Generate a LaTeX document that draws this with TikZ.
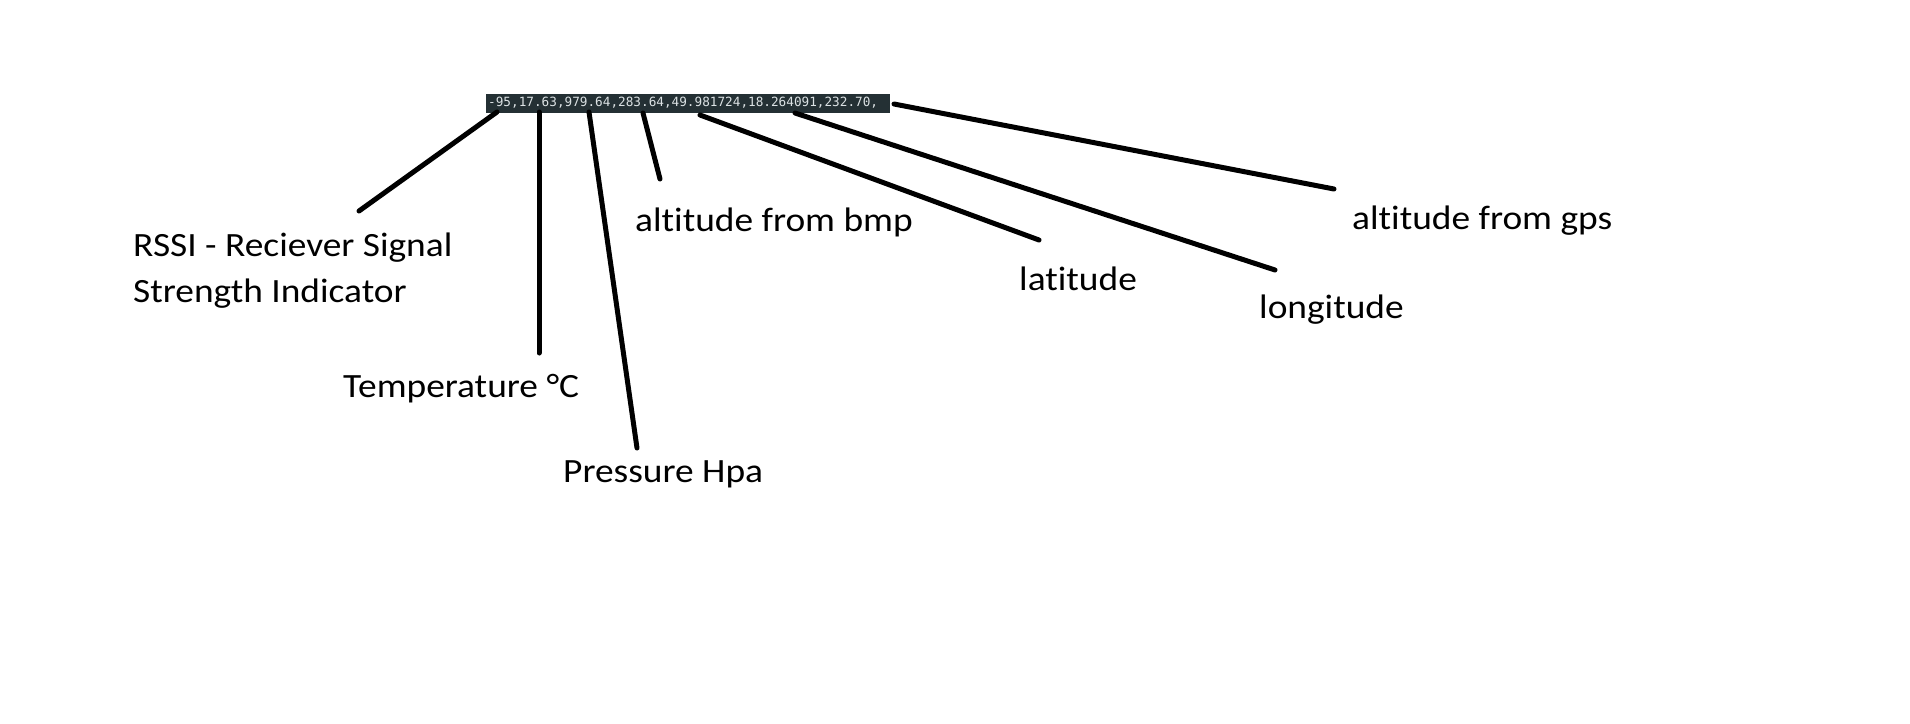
\documentclass[tikz,border=0pt]{standalone}
\usepackage{fontspec}
\setmainfont[Ligatures=NoCommon,FakeStretch=1.1]{Carlito}
\newfontfamily\datafont{DejaVu Sans Mono}
\definecolor{termbg}{HTML}{243034}
\definecolor{termfg}{HTML}{DCE2E4}

\tikzset{
  lead/.style={line width=5pt,line cap=round},
  fieldlabel/.style={anchor=base west,inner sep=0pt,align=left,
    font=\fontsize{34}{46}\selectfont},
  databox/.style={anchor=west,fill=termbg,text=termfg,inner xsep=2pt,
    inner ysep=0pt,minimum height=19pt,text width=400pt,align=left,
    font=\datafont\fontsize{12.7}{14}\selectfont}
}

\begin{document}
\begin{tikzpicture}[x=1pt,y=-1pt]
  \useasboundingbox (0,0) rectangle (1910,723);

  \node (data) at (486,103) [databox] {-95,17.63,979.64,283.64,49.981724,18.264091,232.70,};

  % labels (base = last line)
  \node (rssi) at (133,302) [fieldlabel] {RSSI - Reciever Signal\\Strength Indicator};
  \node (temp) at (343,397) [fieldlabel] {Temperature °C};
  \node (pres) at (563,482) [fieldlabel] {Pressure Hpa};
  \node (altbmp) at (635,231) [fieldlabel] {altitude from bmp};
  \node (lat) at (1019,290) [fieldlabel] {latitude};
  \node (lon) at (1259,318) [fieldlabel] {longitude};
  \node (altgps) at (1352,229) [fieldlabel] {altitude from gps};

  % leader ends on the string
  \coordinate (rssiA) at (497,112);
  \coordinate (tempA) at (539,112);
  \coordinate (presA) at (589,112);
  \coordinate (altbmpA) at (643,113);
  \coordinate (latA) at (700,115);
  \coordinate (lonA) at (795,113);
  \coordinate (altgpsA) at (894,104);

  % leader ends near the labels
  \coordinate (rssiB) at (359,211);
  \coordinate (tempB) at (539,353);
  \coordinate (presB) at (637,448);
  \coordinate (altbmpB) at (660,179);
  \coordinate (latB) at (1039,240);
  \coordinate (lonB) at (1275,270);
  \coordinate (altgpsB) at (1334,189);

  \foreach \f in {rssi,temp,pres,altbmp,lat,lon,altgps}
    \draw[lead] (\f A) -- (\f B);

\end{tikzpicture}
\end{document}
